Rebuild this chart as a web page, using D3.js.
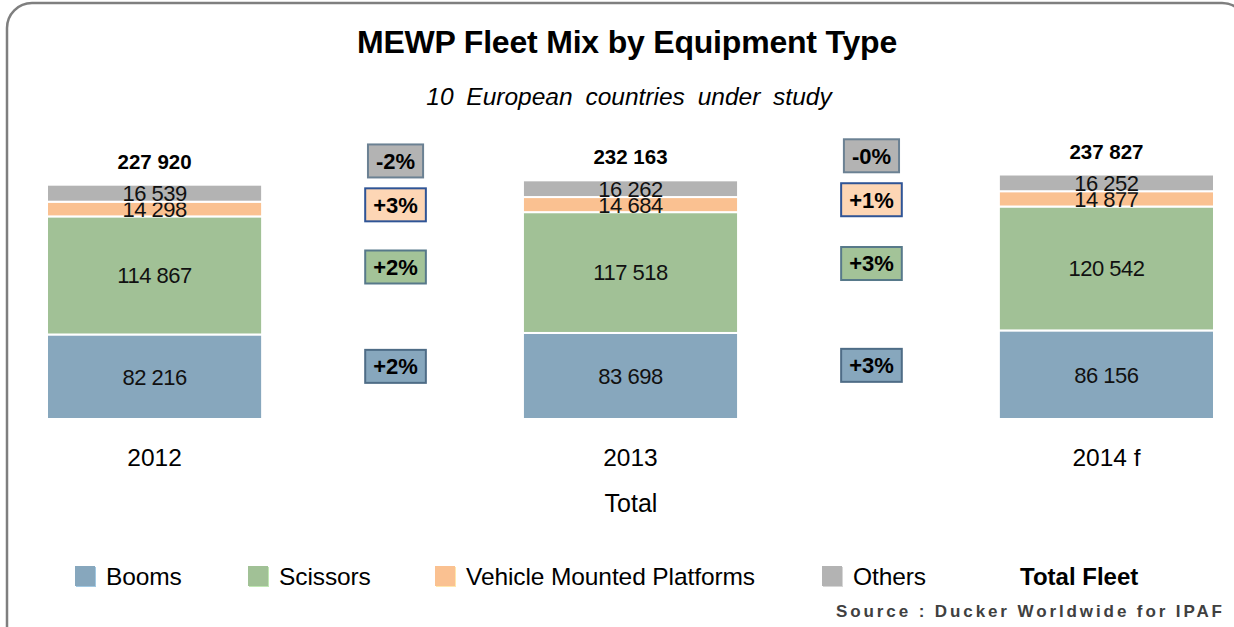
<!DOCTYPE html>
<html>
<head>
<meta charset="utf-8">
<script src="https://cdn.jsdelivr.net/npm/d3@7"></script>
<style>
  html, body { margin: 0; padding: 0; background: #fff; }
  svg { display: block; font-family: "Liberation Sans", Arial, sans-serif; }
</style>
</head>
<body>
<svg id="chart" width="1234" height="627"></svg>
<script>
const years = ['2012', '2013', '2014 f'];
const categories = ['Booms', 'Scissors', 'Vehicle Mounted Platforms', 'Others'];
const booms = [82216, 83698, 86156];
const scissors = [114867, 117518, 120542];
const vmp = [14298, 14684, 14877];
const others = [16539, 16262, 16252];
const totals = [227920, 232163, 237827];
// year-on-year change, one entry per gap between bars
const boomsChange = ['+2%', '+3%'];
const scissorsChange = ['+2%', '+3%'];
const vmpChange = ['+3%', '+1%'];
const othersChange = ['-2%', '-0%'];

const COLORS = {
  'Booms': '#87a7bd',
  'Scissors': '#a1c196',
  'Vehicle Mounted Platforms': '#fac191',
  'Others': '#b3b3b3'
};
const BOX_STYLE = {
  'Booms': { fill: '#87a7bd', stroke: '#4e6c86', nudge: -10 },
  'Scissors': { fill: '#a3c398', stroke: '#57798a', nudge: -7 },
  'Vehicle Mounted Platforms': { fill: '#fdd6b5', stroke: '#2f5496', nudge: -2 },
  'Others': { fill: '#b3b3b3', stroke: '#6b8193', nudge: -30 }
};

const seriesValues = [booms, scissors, vmp, others];
const seriesChanges = [boomsChange, scissorsChange, vmpChange, othersChange];
const fmt = v => d3.format(',')(v).replace(/,/g, ' ');

const svg = d3.select('#chart');

// rounded frame
svg.append('rect')
  .attr('x', 7).attr('y', 3)
  .attr('width', 1240).attr('height', 650)
  .attr('rx', 25).attr('ry', 25)
  .attr('fill', 'none')
  .attr('stroke', '#7f7f7f')
  .attr('stroke-width', 2.5);

svg.append('text')
  .attr('x', 627).attr('y', 53)
  .attr('text-anchor', 'middle')
  .attr('font-size', 32).attr('font-weight', 'bold')
  .attr('letter-spacing', -0.2)
  .text('MEWP Fleet Mix by Equipment Type');

svg.append('text')
  .attr('x', 629).attr('y', 105)
  .attr('text-anchor', 'middle')
  .attr('font-size', 24.5).attr('font-style', 'italic')
  .attr('word-spacing', 6)
  .text('10 European countries under study');

const x = d3.scaleBand()
  .domain(years)
  .range([47, 1214])
  .paddingInner(0.548)
  .paddingOuter(0);

const y = d3.scaleLinear()
  .domain([0, 250000])
  .range([419, 162]);

// stack rows
const rows = years.map((yr, i) => {
  const row = { year: yr };
  categories.forEach((c, k) => { row[c] = seriesValues[k][i]; });
  return row;
});
const stacked = d3.stack().keys(categories)(rows);

const layers = svg.append('g').selectAll('g.layer')
  .data(stacked)
  .join('g')
  .attr('class', 'layer')
  .attr('fill', d => COLORS[d.key]);

layers.selectAll('rect')
  .data(d => d)
  .join('rect')
  .attr('x', d => x(d.data.year))
  .attr('width', x.bandwidth())
  .attr('y', d => y(d[1]))
  .attr('height', d => y(d[0]) - y(d[1]))
  .attr('stroke', '#fff')
  .attr('stroke-width', 2);

layers.selectAll('text')
  .data(d => d.map(p => ({ p, key: d.key })))
  .join('text')
  .attr('x', d => x(d.p.data.year) + x.bandwidth() / 2)
  .attr('y', d => (y(d.p[0]) + y(d.p[1])) / 2)
  .attr('dy', '0.36em')
  .attr('text-anchor', 'middle')
  .attr('font-size', 22)
  .attr('fill', '#111')
  .attr('letter-spacing', -0.5)
  .text(d => fmt(d.p.data[d.key]));

// totals above bars
svg.append('g').selectAll('text')
  .data(years)
  .join('text')
  .attr('x', d => x(d) + x.bandwidth() / 2)
  .attr('y', (d, i) => y(totals[i]) - 16)
  .attr('text-anchor', 'middle')
  .attr('font-size', 20.5).attr('font-weight', 'bold')
  .text((d, i) => fmt(totals[i]));

// category axis labels
svg.append('g').selectAll('text')
  .data(years)
  .join('text')
  .attr('x', d => x(d) + x.bandwidth() / 2)
  .attr('y', 466)
  .attr('text-anchor', 'middle')
  .attr('font-size', 24.5)
  .text(d => d);

svg.append('text')
  .attr('x', 631).attr('y', 512)
  .attr('text-anchor', 'middle')
  .attr('font-size', 25)
  .text('Total');

// change boxes between bars
const boxes = [];
categories.forEach((c, k) => {
  const layer = stacked[k];
  for (let g = 0; g < years.length - 1; g++) {
    const a = layer[g], b = layer[g + 1];
    const midA = (y(a[0]) + y(a[1])) / 2;
    const midB = (y(b[0]) + y(b[1])) / 2;
    const cx = (x(years[g]) + x.bandwidth() + x(years[g + 1])) / 2 + 3;
    boxes.push({ key: c, label: seriesChanges[k][g], cx, cy: (midA + midB) / 2 + BOX_STYLE[c].nudge });
  }
});

const boxG = svg.append('g').selectAll('g.box')
  .data(boxes)
  .join('g')
  .attr('class', 'box')
  .attr('transform', d => `translate(${d.cx},${d.cy})`);

boxG.append('text')
  .attr('text-anchor', 'middle')
  .attr('dy', '0.36em')
  .attr('font-size', 22).attr('font-weight', 'bold')
  .text(d => d.label);

boxG.each(function(d) {
  const g = d3.select(this);
  const w = g.select('text').node().getComputedTextLength() + 16;
  g.insert('rect', 'text')
    .attr('x', -w / 2).attr('y', -16.5)
    .attr('width', w).attr('height', 33)
    .attr('fill', BOX_STYLE[d.key].fill)
    .attr('stroke', BOX_STYLE[d.key].stroke)
    .attr('stroke-width', 2);
});

// legend
const legendX = [75, 248, 435, 822];
const legend = svg.append('g').selectAll('g')
  .data(categories)
  .join('g')
  .attr('transform', (d, i) => `translate(${legendX[i]},566)`);

legend.append('rect')
  .attr('x', 1).attr('y', 1)
  .attr('width', 20).attr('height', 20)
  .attr('fill', d => d3.color(COLORS[d]).brighter(0.5));
legend.append('rect')
  .attr('width', 20).attr('height', 20)
  .attr('fill', d => COLORS[d]);
legend.append('text')
  .attr('x', 31).attr('y', 19)
  .attr('font-size', 24.5)
  .attr('letter-spacing', -0.1)
  .text(d => d);

svg.append('text')
  .attr('x', 1020).attr('y', 585)
  .attr('font-size', 24).attr('font-weight', 'bold')
  .text('Total Fleet');

svg.append('text')
  .attr('x', 836).attr('y', 617)
  .attr('font-size', 17).attr('font-weight', 'bold')
  .attr('letter-spacing', 2.9)
  .attr('fill', '#404040')
  .text('Source : Ducker Worldwide for IPAF');
</script>
</body>
</html>
